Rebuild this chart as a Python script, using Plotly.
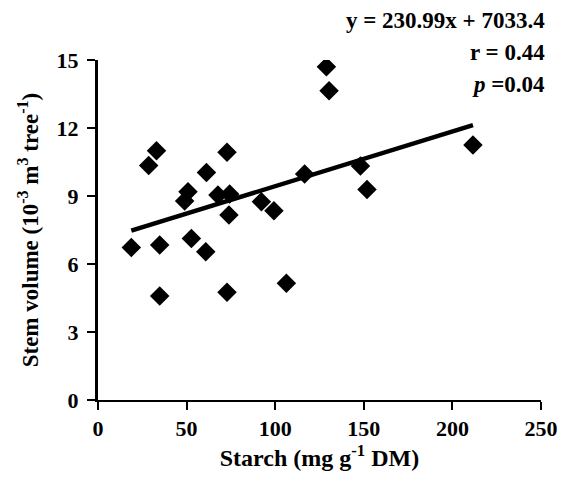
import plotly.graph_objects as go

starch = [18.8, 28.6, 33.0, 34.8, 34.8, 48.9, 50.8, 52.7, 60.8, 61.2, 67.7, 72.8,
          72.8, 74.3, 73.9, 92.2, 99.3, 106.3, 116.6, 128.9, 130.4, 148.1, 151.8, 211.6]
stem_volume = [6.73, 10.35, 11.0, 6.84, 4.59, 8.78, 9.19, 7.13, 6.54, 10.04, 9.04, 10.93,
               4.75, 9.09, 8.16, 8.75, 8.35, 5.15, 9.97, 14.7, 13.64, 10.32, 9.29, 11.25]
trend_x = [18.8, 211.6]
trend_y = [7.47, 12.13]
x_ticks = [0, 50, 100, 150, 200, 250]
y_ticks = [0, 3, 6, 9, 12, 15]
stat_lines = ["y = 230.99x + 7033.4", "r = 0.44", "<i>p</i> =0.04"]

FONT = "Liberation Serif"

fig = go.Figure()
fig.add_trace(go.Scatter(x=trend_x, y=trend_y, mode="lines",
                         line=dict(color="black", width=4.5), hoverinfo="skip"))
fig.add_trace(go.Scatter(x=starch, y=stem_volume, mode="markers",
                         marker=dict(symbol="diamond", size=15, color="black")))

fig.update_layout(
    width=562, height=497,
    margin=dict(l=98, r=21, t=60, b=97),
    plot_bgcolor="white", paper_bgcolor="white",
    showlegend=False,
    font=dict(family=FONT, color="black", size=16),
)
fig.update_xaxes(
    range=[0, 250], tickvals=x_ticks, ticktext=["<b>%d</b>" % v for v in x_ticks],
    showgrid=False, zeroline=False, automargin=False,
    showline=True, linecolor="black", linewidth=2,
    ticks="outside", ticklen=8, tickwidth=2, tickcolor="black",
    tickfont=dict(family=FONT, size=22, color="black"),
    ticklabelstandoff=0,
    title=dict(text="<b>Starch (mg g<sup>-1</sup> DM)</b>",
               font=dict(family=FONT, size=24, color="black"), standoff=4),
)
fig.update_yaxes(
    range=[0, 15], tickvals=y_ticks, ticktext=["<b>%d</b>" % v for v in y_ticks],
    showgrid=False, zeroline=False, automargin=False,
    showline=True, linecolor="black", linewidth=3,
    ticks="outside", ticklen=8, tickwidth=2, tickcolor="black",
    tickfont=dict(family=FONT, size=22, color="black"),
    ticklabelstandoff=4,
    title=dict(text="<b>Stem volume (10<sup>-3</sup> m<sup>3</sup> tree<sup>-1</sup>)</b>",
               font=dict(family=FONT, size=23, color="black"), standoff=12),
)
for i, t in enumerate(stat_lines):
    fig.add_annotation(text="<b>" + t + "</b>", xref="paper", yref="paper",
                       x=1.0, y=1.0, xanchor="right", yanchor="middle",
                       xshift=6, yshift=40 - 32 * i, showarrow=False,
                       font=dict(family=FONT, size=23, color="black"))

fig.write_html("out.html")
